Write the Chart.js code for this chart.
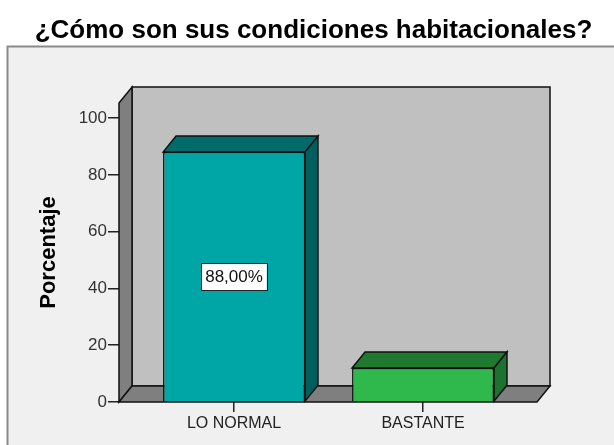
<!DOCTYPE html>
<html>
<head>
<meta charset="utf-8">
<script src="https://cdn.jsdelivr.net/npm/chart.js@4.4.1/dist/chart.umd.min.js"></script>
<style>
  html, body { margin: 0; padding: 0; background: #ffffff; }
  #wrap { width: 614px; height: 445px; position: relative; }
</style>
</head>
<body>
<div id="wrap"><canvas id="c" width="614" height="445"></canvas></div>
<script>
// ---- data ----
const chartTitle = '¿Cómo son sus condiciones habitacionales?';
const categories = ['LO NORMAL', 'BASTANTE'];
const percentages = [88, 12];
const showValueLabel = [true, false];
const yTicks = [0, 20, 40, 60, 80, 100];
const yAxisTitle = 'Porcentaje';

// ---- styles ----
const frontColors = ['#00a6a5', '#2fb84b'];
const topColors = ['#006b6a', '#1f7a2f'];
const sideColors = ['#005f5e', '#1e7230'];
const FONT = '"Liberation Sans", Arial, sans-serif';
const DEPTH_X = 13, DEPTH_Y = -16;

const panelPlugin = {
  id: 'panel',
  beforeDraw(chart) {
    const ctx = chart.ctx;
    ctx.save();
    ctx.fillStyle = '#ffffff';
    ctx.fillRect(0, 0, chart.width, chart.height);
    ctx.fillStyle = '#f0f0f0';
    ctx.fillRect(7, 46, chart.width - 7, chart.height - 46);
    ctx.strokeStyle = '#8a8a8a';
    ctx.lineWidth = 2;
    ctx.beginPath();
    ctx.moveTo(7.5, chart.height);
    ctx.lineTo(7.5, 46.5);
    ctx.lineTo(chart.width, 46.5);
    ctx.stroke();
    // title
    ctx.fillStyle = '#000000';
    ctx.font = 'bold 26px ' + FONT;
    ctx.textAlign = 'center';
    ctx.textBaseline = 'alphabetic';
    ctx.fillText(chartTitle, 313.5, 38);
    ctx.restore();
  }
};

const wallsPlugin = {
  id: 'walls',
  beforeDatasetsDraw(chart) {
    const { ctx, chartArea: a } = chart;
    const L = a.left, R = a.right, T = a.top, B = a.bottom;
    ctx.save();
    ctx.lineWidth = 1.5;
    ctx.strokeStyle = '#111111';
    ctx.lineJoin = 'miter';
    // back wall
    ctx.fillStyle = '#c0c0c0';
    ctx.beginPath();
    ctx.rect(L + DEPTH_X, T + DEPTH_Y, R - L, B - T);
    ctx.fill(); ctx.stroke();
    // left wall
    ctx.fillStyle = '#7f7f7f';
    ctx.beginPath();
    ctx.moveTo(L, T); ctx.lineTo(L + DEPTH_X, T + DEPTH_Y);
    ctx.lineTo(L + DEPTH_X, B + DEPTH_Y); ctx.lineTo(L, B); ctx.closePath();
    ctx.fill(); ctx.stroke();
    // floor
    ctx.beginPath();
    ctx.moveTo(L, B); ctx.lineTo(L + DEPTH_X, B + DEPTH_Y);
    ctx.lineTo(R + DEPTH_X, B + DEPTH_Y); ctx.lineTo(R, B); ctx.closePath();
    ctx.fill(); ctx.stroke();
    ctx.restore();
  },
  afterDatasetsDraw(chart) {
    const ctx = chart.ctx;
    const meta = chart.getDatasetMeta(0);
    ctx.save();
    ctx.lineWidth = 1.5;
    ctx.strokeStyle = '#111111';
    meta.data.forEach((bar, i) => {
      const p = bar.getProps(['x', 'y', 'base', 'width'], true);
      const l = p.x - p.width / 2, r = p.x + p.width / 2;
      // top face
      ctx.fillStyle = topColors[i];
      ctx.beginPath();
      ctx.moveTo(l, p.y); ctx.lineTo(l + DEPTH_X, p.y + DEPTH_Y);
      ctx.lineTo(r + DEPTH_X, p.y + DEPTH_Y); ctx.lineTo(r, p.y); ctx.closePath();
      ctx.fill(); ctx.stroke();
      // side face
      ctx.fillStyle = sideColors[i];
      ctx.beginPath();
      ctx.moveTo(r, p.y); ctx.lineTo(r + DEPTH_X, p.y + DEPTH_Y);
      ctx.lineTo(r + DEPTH_X, p.base + DEPTH_Y); ctx.lineTo(r, p.base); ctx.closePath();
      ctx.fill(); ctx.stroke();
      // value label
      if (showValueLabel[i]) {
        const txt = percentages[i].toFixed(2).replace('.', ',') + '%';
        ctx.font = '17px ' + FONT;
        const w = ctx.measureText(txt).width + 8;
        const h = 27;
        const cy = (p.y + p.base) / 2;
        ctx.fillStyle = '#ffffff';
        ctx.fillRect(p.x - w / 2, cy - h / 2, w, h);
        ctx.lineWidth = 1;
        ctx.strokeStyle = '#222222';
        ctx.strokeRect(Math.round(p.x - w / 2) + 0.5, Math.round(cy - h / 2) + 0.5, Math.round(w), h);
        ctx.fillStyle = '#111111';
        ctx.textAlign = 'center';
        ctx.textBaseline = 'middle';
        ctx.fillText(txt, p.x, cy + 1);
        ctx.lineWidth = 1.5;
        ctx.strokeStyle = '#111111';
      }
    });
    ctx.restore();
  }
};

new Chart(document.getElementById('c'), {
  type: 'bar',
  data: {
    datasets: [{
      data: percentages.map((v, i) => ({ x: i, y: v })),
      backgroundColor: frontColors,
      borderColor: '#111111',
      borderWidth: 1.5,
      barPercentage: 0.751,
      categoryPercentage: 1
    }]
  },
  options: {
    responsive: false,
    animation: false,
    devicePixelRatio: 1,
    layout: { padding: { top: 103, right: 77, bottom: 0, left: 0 } },
    plugins: { legend: { display: false }, tooltip: { enabled: false }, title: { display: false } },
    scales: {
      x: {
        type: 'linear',
        offset: false,
        min: -0.6085,
        max: 1.603,
        border: { display: false },
        grid: { offset: false, drawOnChartArea: false, drawTicks: true, tickLength: 10, color: '#222222', lineWidth: 1.5 },
        ticks: {
          autoSkip: false,
          maxRotation: 0,
          padding: 2,
          color: '#222222',
          font: { family: FONT, size: 16 },
          callback: (v) => categories[v]
        },
        afterBuildTicks: (s) => { s.ticks = categories.map((_, i) => ({ value: i })); },
        afterFit: (s) => { s.height = 43; }
      },
      y: {
        min: 0,
        max: 105.3,
        border: { display: false },
        grid: { drawOnChartArea: false, drawTicks: true, tickLength: 11, color: '#222222', lineWidth: 1.5 },
        ticks: {
          padding: 1,
          color: '#333333',
          font: { family: FONT, size: 17 }
        },
        afterBuildTicks: (s) => { s.ticks = yTicks.map(v => ({ value: v })); },
        title: {
          display: true,
          text: yAxisTitle,
          color: '#000000',
          font: { family: FONT, size: 22, weight: 'bold' },
          padding: { top: 36, bottom: 0 }
        },
        afterFit: (s) => { s.width = 119; }
      }
    }
  },
  plugins: [panelPlugin, wallsPlugin]
});
</script>
</body>
</html>
